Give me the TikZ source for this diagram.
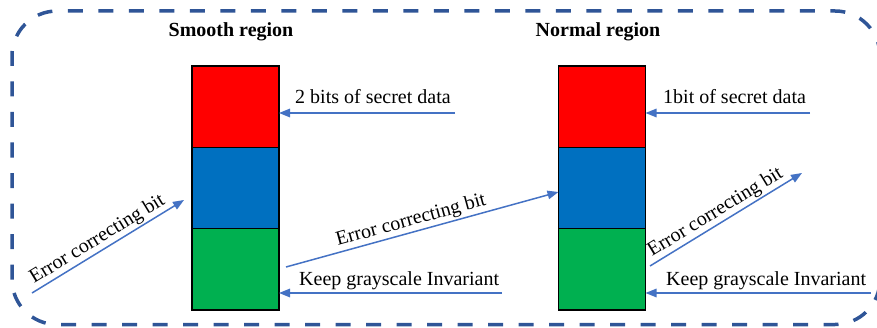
\documentclass[tikz,border=0pt]{standalone}
\usepackage{fontspec}
\newfontfamily\labelfont{Liberation Serif}
\usetikzlibrary{arrows.meta}
\definecolor{frameblue}{RGB}{47,85,151}
\definecolor{arrowblue}{RGB}{68,114,196}
\definecolor{cellred}{RGB}{255,0,0}
\definecolor{cellblue}{RGB}{0,112,192}
\definecolor{cellgreen}{RGB}{0,176,80}

\begin{document}
\begin{tikzpicture}[x=1pt,y=1pt,
  cell/.style={draw=black, line width=1.5pt, minimum width=87pt, minimum height=81.33pt,
               inner sep=0pt, outer sep=0pt, anchor=north},
  flow/.style={draw=arrowblue, line width=1.5pt, -{Triangle[length=11pt,width=8.5pt]}},
  lbl/.style={font=\labelfont\fontsize{20}{24}\selectfont, inner sep=0pt},
  title/.style={font=\labelfont\fontsize{20}{24}\selectfont\bfseries, inner sep=0pt, anchor=base},
  slab/.style={font=\labelfont\fontsize{20}{24}\selectfont, sloped, above, inner sep=1.5pt, pos=0.47}]
\clip (0,0) rectangle (877,327);

% dashed frame around both regions
\draw[frameblue, line width=3.5pt, dash pattern=on 15pt off 15.5pt, rounded corners=45pt]
  (12,2.5) rectangle (880,316);

% smooth region column
\node[title] (sT) at (231,290) {Smooth region};
\node[cell, fill=cellred]   (sR) at (235.5,261) {};
\node[cell, fill=cellblue]  (sB) at (sR.south) {};
\node[cell, fill=cellgreen] (sG) at (sB.south) {};

% normal region column
\node[title] (nT) at (598,290) {Normal region};
\node[cell, fill=cellred]   (nR) at (602,261) {};
\node[cell, fill=cellblue]  (nB) at (nR.south) {};
\node[cell, fill=cellgreen] (nG) at (nB.south) {};

% secret data arrows
\coordinate (s1) at (455,214);
\draw[flow] (s1) -- (s1 -| sR.east);
\node[lbl, anchor=base west] (s1t) at (295,223) {2 bits of secret data};

\coordinate (n1) at (810,214);
\draw[flow] (n1) -- (n1 -| nR.east);
\node[lbl, anchor=base west] (n1t) at (663,223) {1bit of secret data};

% grayscale arrows
\coordinate (s3) at (502,34);
\draw[flow] (s3) -- (s3 -| sG.east);
\node[lbl, anchor=base west] (s3t) at (299,41.5) {Keep grayscale Invariant};

\coordinate (n3) at (871,34);
\draw[flow] (n3) -- (n3 -| nG.east);
\node[lbl, anchor=base west] (n3t) at (666,41.5) {Keep grayscale Invariant};

% error correcting bit arrows
\coordinate (e1a) at (32,34);
\coordinate (e1b) at (184,127);
\draw[flow] (e1a) -- node[slab] {Error correcting bit} (e1b);

\coordinate (e2a) at (286,60);
\draw[flow] (e2a) -- node[slab] {Error correcting bit} ([yshift=-4pt]nB.west);

\coordinate (e3a) at (650,61);
\coordinate (e3b) at (802,154);
\draw[flow] (e3a) -- node[slab] {Error correcting bit} (e3b);
\end{tikzpicture}
\end{document}
